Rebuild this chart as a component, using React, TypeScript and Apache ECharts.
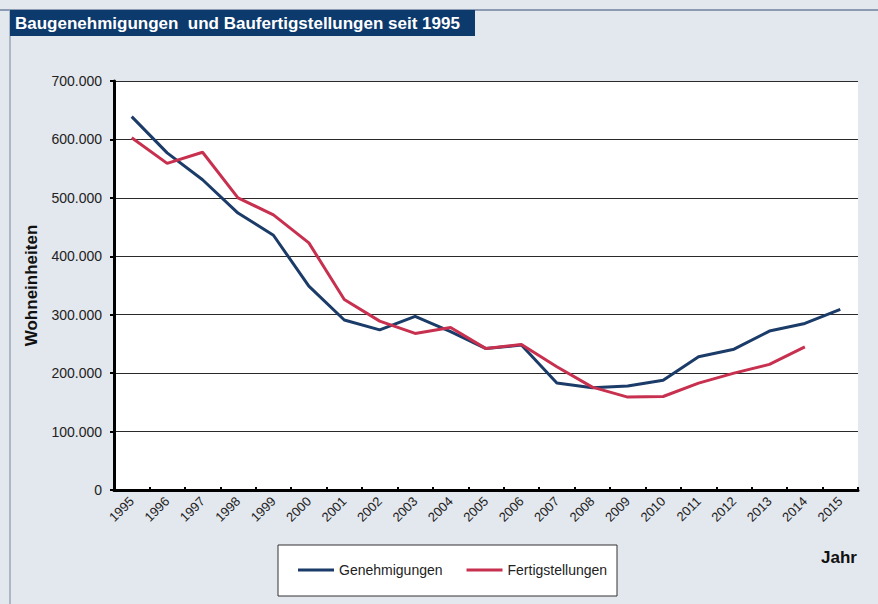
import React, { useEffect, useRef } from "react";
import * as echarts from "echarts";

const years = ["1995","1996","1997","1998","1999","2000","2001","2002","2003","2004","2005","2006","2007","2008","2009","2010","2011","2012","2013","2014","2015"];
const genehmigungen = [639000,577000,531000,474000,436000,349000,291000,274000,297000,271000,242000,248000,183000,175000,178000,188000,228000,241000,272000,285000,309000];
const fertigstellungen = [603000,559000,578000,500000,471000,423000,326000,289000,268000,278000,242000,249000,211000,176000,159000,160000,183000,200000,215000,245000,null];

const BLUE = "#1b3b68";
const RED = "#c8304f";
const FONT = "Liberation Sans, Arial, sans-serif";

function fmt(v: number) {
  return v === 0 ? "0" : String(v).replace(/\B(?=(\d{3})+(?!\d))/g, ".");
}

export default function App() {
  const ref = useRef<HTMLDivElement>(null);
  useEffect(() => {
    const chart = echarts.init(ref.current!, null, { renderer: "svg" });
    chart.setOption({
      animation: false,
      backgroundColor: "#e3e7ee",
      textStyle: { fontFamily: FONT },
      grid: { left: 114, right: 20, top: 81, bottom: 114, containLabel: false, show: true, backgroundColor: "#ffffff", borderWidth: 0 },
      legend: {
        left: 298, top: 563, padding: 0,
        icon: "rect", itemWidth: 36, itemHeight: 3, itemGap: 24,
        textStyle: { fontSize: 14, color: "#222", fontFamily: FONT },
        data: ["Genehmigungen", "Fertigstellungen"],
      },
      xAxis: {
        type: "category",
        data: years,
        boundaryGap: true,
        axisLine: { lineStyle: { color: "#000", width: 3 } },
        axisTick: { show: true, inside: true, length: 3, lineStyle: { color: "#000", width: 2 } },
        axisLabel: { rotate: 45, fontSize: 13, color: "#222", margin: 9, interval: 0 },
      },
      yAxis: {
        type: "value",
        min: 0, max: 700000, interval: 100000,
        name: "Wohneinheiten",
        nameLocation: "middle",
        nameGap: 70,
        nameTextStyle: { fontSize: 17, fontWeight: "bold", color: "#111" },
        axisLine: { show: true, lineStyle: { color: "#000", width: 3 } },
        axisTick: { show: true, length: 4, lineStyle: { color: "#000", width: 2 } },
        axisLabel: { fontSize: 14, color: "#222", margin: 12, formatter: (v: number) => fmt(v) },
        splitLine: { show: true, lineStyle: { color: "#2a2a2a", width: 1 } },
      },
      series: [
        { name: "Genehmigungen", type: "line", data: genehmigungen, symbol: "none", lineStyle: { color: BLUE, width: 3 }, itemStyle: { color: BLUE } },
        { name: "Fertigstellungen", type: "line", data: fertigstellungen, symbol: "none", lineStyle: { color: RED, width: 3 }, itemStyle: { color: RED } },
      ],
      graphic: [
        { type: "line", shape: { x1: 0, y1: 10, x2: 878, y2: 10 }, style: { stroke: "#6f829c", lineWidth: 1.5 }, z: -1 },
        { type: "line", shape: { x1: 10, y1: 10, x2: 10, y2: 604 }, style: { stroke: "#9aa6b6", lineWidth: 1.5 }, z: -1 },
        { type: "rect", shape: { x: 10, y: 10, width: 465, height: 26 }, style: { fill: "#0d3a6c" } },
        { type: "text", x: 15, y: 23, style: { text: "Baugenehmigungen  und Baufertigstellungen seit 1995", fill: "#ffffff", font: "bold 17px " + FONT, textVerticalAlign: "middle" } },
        { type: "rect", shape: { x: 278, y: 545, width: 339, height: 51 }, style: { fill: "#ffffff", stroke: "#333", lineWidth: 1 }, z: -1 },
        { type: "text", x: 821, y: 557, style: { text: "Jahr", fill: "#111", font: "bold 17px " + FONT, textVerticalAlign: "middle" } },
      ],
    });
    return () => chart.dispose();
  }, []);
  return <div ref={ref} style={{ width: 878, height: 604, position: "absolute", left: 0, top: 0 }} />;
}
